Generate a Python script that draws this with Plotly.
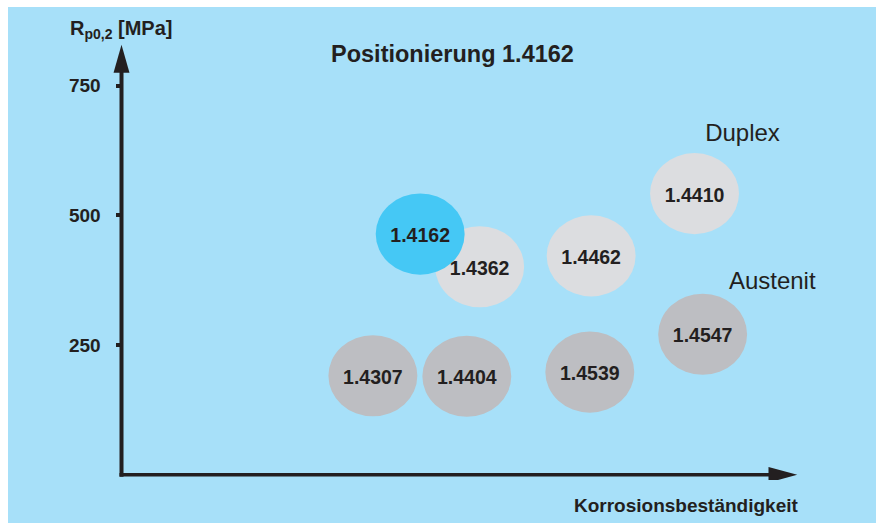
import plotly.graph_objects as go

# ---- data ----
grades = ["1.4307", "1.4404", "1.4539", "1.4547", "1.4362", "1.4462", "1.4410", "1.4162"]
corrosion = [37.2, 51.1, 69.3, 86.0, 53.0, 69.5, 84.8, 44.2]      # relative corrosion resistance
rp02 = [191, 190, 198, 271, 401, 422, 542, 464]                   # Rp0,2 [MPa]
groups = ["Austenit", "Austenit", "Austenit", "Austenit", "Duplex", "Duplex", "Duplex", "Ferrit"]
group_labels = ["Duplex", "Austenit"]
group_label_x = [91.9, 96.3]
group_label_y = [655, 370]
y_tickvals = [250, 500, 750]
y_ticktext = ["250", "500", "750"]

# ---- style ----
BG = "#a7e0f9"
INK = "#231f20"
colors = {"Austenit": "#bdbec2", "Duplex": "#dcdde0", "Ferrit": "#45c8f5"}
FONT = "Liberation Sans, Arial, Helvetica, sans-serif"

X_END = 100.0    # arrow tip of the x axis
Y_END = 829.0    # arrow tip of the y axis
RX = 6.58        # bubble half-width in x units
RY = 78.2        # bubble half-height in MPa
LABEL_DY = -6.5  # small downward nudge of the bubble labels (MPa)

# plot area: 108..804 px wide (x -2..101), 39..480 px high (y -10..840)
X_RANGE = [-2, 101]
Y_RANGE = [-10, 840]
ML, MR, MT, MB = 108, 76, 39, 43
PW = 880 - ML - MR
PH = 523 - MT - MB


def px_x(p):  # pixel -> paper x
    return (p - ML) / PW


def px_y(p):  # pixel -> paper y
    return (523 - MB - p) / PH


fig = go.Figure()

shapes = []
# background panel
shapes.append(dict(type="rect", xref="paper", yref="paper",
                   x0=px_x(8), x1=px_x(876), y0=px_y(524), y1=px_y(7),
                   fillcolor=BG, line=dict(width=0), layer="below"))
# bubbles
for g, x, y, grp in zip(grades, corrosion, rp02, groups):
    shapes.append(dict(type="circle", xref="x", yref="y",
                       x0=x - RX, x1=x + RX, y0=y - RY, y1=y + RY,
                       fillcolor=colors[grp], line=dict(width=0), layer="below"))
# axis lines
shapes.append(dict(type="line", xref="x", yref="y", x0=0, x1=0, y0=-3.5, y1=Y_END - 50,
                   line=dict(color=INK, width=4)))
shapes.append(dict(type="line", xref="x", yref="y", x0=-0.3, x1=X_END - 4, y0=0, y1=0,
                   line=dict(color=INK, width=3.6)))
# arrow heads
shapes.append(dict(type="path", xref="x", yref="y",
                   path=f"M {-1.18} {Y_END - 54} L 0 {Y_END} L {1.18} {Y_END - 54} Z",
                   fillcolor=INK, line=dict(width=0)))
shapes.append(dict(type="path", xref="x", yref="y",
                   path=f"M {X_END - 4.25} {-15} L {X_END} 0 L {X_END - 4.25} {15} Z",
                   fillcolor=INK, line=dict(width=0)))

fig.add_trace(go.Scatter(
    x=corrosion, y=[v + LABEL_DY for v in rp02], mode="text", text=grades,
    textfont=dict(family=FONT, size=19.5, color=INK, weight="bold"),
    hoverinfo="skip", showlegend=False, cliponaxis=False))

fig.add_trace(go.Scatter(
    x=group_label_x, y=group_label_y, mode="text", text=group_labels,
    textfont=dict(family=FONT, size=24, color=INK),
    hoverinfo="skip", showlegend=False, cliponaxis=False))

annotations = [
    dict(text="<b>Positionierung 1.4162</b>", xref="paper", yref="paper",
         x=px_x(452), y=px_y(54), xanchor="center", yanchor="middle", showarrow=False,
         font=dict(family=FONT, size=23.5, color=INK)),
    dict(text="<b>Korrosionsbeständigkeit</b>", xref="paper", yref="paper",
         x=px_x(800), y=px_y(506), xanchor="right", yanchor="middle", showarrow=False,
         font=dict(family=FONT, size=19, color=INK)),
    dict(text="<b>R<sub>p0,2</sub> [MPa]</b>", xref="paper", yref="paper",
         x=px_x(121), y=px_y(29), xanchor="center", yanchor="middle", showarrow=False,
         font=dict(family=FONT, size=20, color=INK)),
]

fig.update_layout(
    width=880, height=523,
    margin=dict(l=ML, r=MR, t=MT, b=MB, pad=0),
    paper_bgcolor="white", plot_bgcolor="rgba(0,0,0,0)",
    shapes=shapes, annotations=annotations,
    xaxis=dict(range=X_RANGE, showgrid=False, zeroline=False, showline=False,
               showticklabels=False, ticks="", fixedrange=True),
    yaxis=dict(range=Y_RANGE, showgrid=False, zeroline=False, showline=False,
               anchor="free", position=px_x(121.5),
               tickvals=y_tickvals, ticktext=y_ticktext, ticks="outside",
               ticklen=6, tickwidth=3.5, tickcolor=INK, ticklabelstandoff=11,
               tickfont=dict(family=FONT, size=19, color=INK, weight="bold"),
               fixedrange=True),
    showlegend=False,
)

fig.write_html("out.html")
